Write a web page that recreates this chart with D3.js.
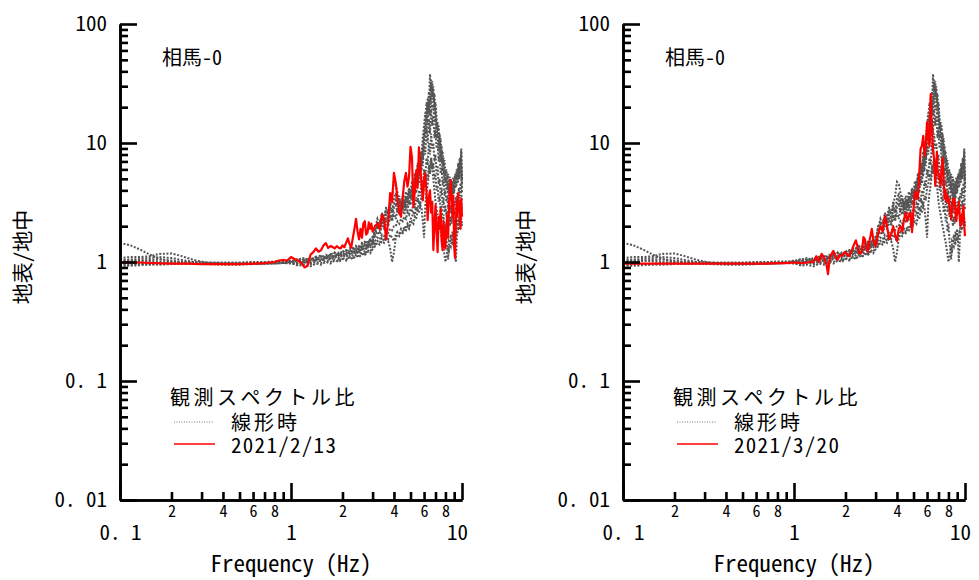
<!DOCTYPE html>
<html>
<head>
<meta charset="utf-8">
<script src="https://cdn.jsdelivr.net/npm/d3@7"></script>
<style>
body { margin: 0; background: #fff; }
text { font-family: "Noto Sans Mono CJK JP", "Noto Sans CJK JP", "DejaVu Sans Mono", monospace; fill: #000; }
</style>
</head>
<body>
<div id="chart"></div>
<script>
// frequency grid for the linear-time spectral ratios (Hz)
var linearFreq = [0.1,0.115,0.13,0.15,0.17,0.2,0.23,0.27,0.32,0.4,0.5,0.6,0.7,0.8,0.9,
    1.0,1.1,1.2,1.3,1.4,1.5,1.6,1.7,1.8,1.9,2.0,2.1,2.2,2.3,2.4,2.5,2.6,2.7,2.8,2.9,3.0,
    3.1,3.2,3.3,3.4,3.5,3.6,3.7,3.8,3.9,4.0,
    4.1,4.2,4.3,4.4,4.5,4.6,4.7,4.8,4.9,5.0,
    5.1,5.2,5.3,5.4,5.5,5.6,5.7,5.8,5.9,6.0,
    6.1,6.2,6.3,6.4,6.5,6.6,6.7,6.8,6.9,7.0,
    7.1,7.2,7.3,7.4,7.5,7.6,7.7,7.8,7.9,8.0,
    8.1,8.2,8.3,8.4,8.5,8.6,8.7,8.8,8.9,9.0,
    9.1,9.2,9.3,9.4,9.5,9.6,9.7,9.8,9.9,10.0];

// linear-time (線形時) spectral ratios, same in both panels
var linear1 = [1.45,1.38,1.28,1.15,1.06,1.0,0.98,0.97,0.97,0.97,0.96,0.97,0.97,0.98,0.98,
    0.99,0.97,1.02,0.98,1.05,1.01,1.08,1.04,1.1,1.06,1.14,1.1,1.18,1.13,1.22,1.17,1.28,1.22,1.35,1.3,1.45,
    2.0,2.1,1.9,2.3,2.2,2.5,2.4,2.8,2.6,3.0,
    3.3,2.9,3.4,3.0,3.6,3.2,3.9,3.5,4.2,3.8,
    4.8,4.2,5.6,5.0,6.8,6.0,8.5,7.5,11,14,
    18,15,24,20,38,28,33,22,26,17,
    14,11,12,9,8.5,7,7.5,5.5,6,4.8,
    5,4.2,4.6,3.8,4.2,3.5,4.0,3.4,4.4,3.8,
    4.8,4.2,5.5,4.6,6.2,5.0,7,6,8.5,4.5];
var linear2 = [1.08,1.1,1.1,1.12,1.17,1.18,1.12,1.04,0.99,0.97,0.97,0.96,0.97,0.97,0.98,
    1.0,1.03,0.98,1.06,1.02,1.1,1.05,1.13,1.08,1.17,1.12,1.2,1.15,1.26,1.2,1.32,1.25,1.4,1.33,1.5,1.42,
    1.8,2.0,2.2,2.1,2.5,2.7,2.6,3.0,3.6,4.7,
    4.5,3.8,3.0,2.6,2.8,2.5,2.9,2.7,3.2,3.0,
    3.6,3.3,4.2,3.8,5.2,4.6,6.5,5.8,8.5,10,
    14,12,20,17,28,34,25,30,20,22,
    16,13,14,10,11,8,8.5,6.5,7.2,5.5,
    6,5,5.5,4.5,5.2,4.2,4.8,4.0,5.2,4.6,
    5.5,5.0,6.0,5.4,6.8,5.8,7.5,6.2,9.0,5.0];
var linear3 = [0.93,0.93,0.94,0.95,0.96,0.97,0.97,0.97,0.98,0.98,0.97,0.97,0.98,0.98,0.99,
    0.98,0.93,0.95,0.92,0.97,0.95,1.0,0.97,1.03,1.0,1.06,1.03,1.1,1.06,1.13,1.1,1.17,1.14,1.22,1.18,1.28,
    1.35,1.45,1.4,1.5,1.45,1.6,1.5,1.3,1.0,1.2,
    1.6,1.7,1.65,1.8,1.75,1.9,1.85,2.0,1.9,2.1,
    2.2,2.1,2.4,2.3,2.7,2.6,3.0,2.8,2.2,1.6,
    3.0,3.8,4.5,5.5,6.5,7.5,6.0,5.0,4.0,3.2,
    2.8,2.5,2.2,2.0,1.8,1.6,1.5,1.3,1.15,1.0,
    1.1,1.2,1.3,1.25,1.4,1.35,1.5,1.45,1.6,1.5,
    1.6,1.7,1.8,1.75,1.9,1.85,2.0,2.1,2.2,2.0];
var linear4 = [1.04,1.05,1.06,1.08,1.1,1.08,1.04,1.0,0.98,0.97,0.96,0.96,0.97,0.98,0.98,
    1.01,1.05,1.08,1.03,1.1,1.14,1.08,1.16,1.2,1.13,1.22,1.26,1.18,1.3,1.35,1.27,1.42,1.48,1.38,1.55,1.62,
    1.6,1.8,1.7,2.0,1.9,2.2,2.0,2.4,2.2,2.6,
    2.3,2.8,2.5,3.0,2.7,3.2,2.9,3.4,3.1,3.6,
    3.4,4.2,3.8,5.0,4.4,6.0,5.2,7.5,6.4,9.5,
    8,13,10,16,12,19,14,17,11,13,
    9,10,7,8,5.5,6.2,4.4,5,3.6,4,
    3.2,3.6,2.8,3.2,2.6,3.0,2.5,2.9,2.7,3.2,
    3.0,3.5,3.2,3.8,3.4,4.2,3.6,4.6,3.8,3.2];
var linear5 = [0.97,0.97,0.96,0.96,0.95,0.96,0.96,0.97,0.96,0.95,0.95,0.96,0.97,0.97,0.98,
    0.97,0.95,0.99,0.96,1.0,0.98,1.03,1.0,1.05,1.02,1.08,1.05,1.1,1.08,1.15,1.12,1.2,1.16,1.26,1.22,1.32,
    1.5,1.6,1.55,1.7,1.65,1.8,1.75,1.9,1.85,2.0,
    2.0,2.2,2.1,2.3,2.2,2.4,2.3,2.6,2.5,2.8,
    2.7,3.1,2.9,3.5,3.2,4.0,3.6,4.8,4.2,6.0,
    5.2,7.5,6.5,10,8,12,9,10,7,8,
    5.5,6.5,4.5,5,3.6,4.2,3.0,3.5,2.6,3.0,
    2.4,2.7,2.2,2.5,2.0,2.4,2.1,2.5,2.3,2.7,
    2.5,2.9,2.6,3.1,2.8,3.3,2.9,3.5,3.2,2.8];
var linear6 = [1.0,1.01,1.02,1.04,1.05,1.03,1.0,0.98,0.97,0.97,0.98,0.99,0.99,0.99,1.0,
    1.02,1.06,1.0,1.09,1.04,1.12,1.07,1.16,1.1,1.2,1.14,1.24,1.18,1.3,1.22,1.36,1.28,1.45,1.35,1.55,1.48,
    1.9,2.3,2.0,2.6,2.2,2.9,2.4,3.2,2.6,3.4,
    3.8,3.1,3.6,2.8,3.3,2.7,3.5,3.0,3.9,3.4,
    4.4,3.8,5.2,4.5,6.4,5.4,7.8,6.6,10,12,
    16,22,18,27,21,30,24,26,18,20,
    13,15,10,12,8,9.5,6.5,7.5,5,6,
    4.4,5.2,4.0,4.8,3.6,4.4,3.8,4.6,4.2,5.0,
    4.6,5.5,5.0,6.0,5.2,6.5,5.6,7.5,6.0,4.2];
var linear7 = [0.95,0.95,0.96,0.97,0.98,0.99,1.0,1.0,0.99,0.99,0.99,1.0,1.0,1.01,1.01,
    1.0,0.98,1.04,1.0,1.07,1.03,1.1,1.06,1.13,1.09,1.17,1.12,1.22,1.16,1.28,1.2,1.35,1.26,1.42,1.34,1.52,
    1.4,1.5,1.45,1.6,1.5,1.65,1.55,1.7,1.6,1.5,
    1.7,1.8,1.75,1.9,1.8,2.0,1.9,2.1,2.0,2.3,
    2.4,2.6,2.5,2.9,2.7,3.2,3.0,3.6,3.3,4.2,
    4.5,5.5,5.0,6.5,5.5,7.5,6,6.8,5,5.5,
    4.0,4.4,3.2,3.6,2.6,3.0,2.2,2.5,1.8,2.1,
    1.6,1.3,1.05,1.5,1.45,1.7,1.5,1.8,1.6,1.9,
    1.5,1.0,1.4,2.3,2.0,2.4,2.1,2.6,2.3,2.1];
var linear8 = [1.02,1.03,1.03,1.02,1.0,0.99,0.98,0.98,0.97,0.97,0.97,0.98,0.98,0.99,0.99,
    1.03,0.99,1.07,1.02,1.11,1.05,1.15,1.08,1.2,1.12,1.25,1.17,1.3,1.22,1.36,1.27,1.44,1.33,1.52,1.4,1.62,
    1.7,2.0,1.85,2.2,2.0,2.4,2.15,2.6,2.3,2.9,
    3.0,2.6,3.2,2.8,3.3,2.9,3.6,3.2,4.0,3.5,
    4.0,4.8,4.4,5.6,5.0,6.8,6.0,8.5,7.2,11,
    12,17,14,22,17,25,19,21,15,16,
    11,12,8.5,10,7,7.8,5.8,6.5,4.6,5.2,
    4.0,4.6,3.6,4.2,3.3,3.9,3.4,4.0,3.7,4.4,
    4.2,4.8,4.4,5.2,4.7,5.8,5.0,6.5,5.4,3.8];
var linearCurves = [linear1, linear2, linear3, linear4, linear5, linear6, linear7, linear8];

// observed ratio, 2021/2/13  [freq, ratio]
var ratioFeb = [[0.1,0.99],[0.13,0.99],[0.16,0.98],[0.2,0.97],[0.25,0.97],[0.3,0.96],[0.35,0.96],
    [0.4,0.96],[0.5,0.96],[0.6,0.97],[0.7,0.98],[0.8,1.0],[0.85,1.03],[0.9,1.04],[0.95,1.03],
    [1.0,1.1],[1.05,1.06],[1.1,1.03],[1.15,0.98],[1.2,0.9],[1.25,0.93],[1.3,1.15],[1.35,1.21],
    [1.4,1.3],[1.45,1.22],[1.5,1.26],[1.55,1.38],[1.6,1.44],[1.65,1.31],[1.7,1.36],[1.75,1.34],
    [1.8,1.3],[1.85,1.36],[1.9,1.32],[1.95,1.3],[2.0,1.38],[2.05,1.33],[2.1,1.45],[2.15,1.58],
    [2.2,1.42],[2.25,1.32],[2.3,1.6],[2.35,1.9],[2.4,2.3],[2.45,1.8],[2.5,1.55],[2.55,1.9],
    [2.6,1.6],[2.65,2.1],[2.7,2.2],[2.75,1.7],[2.8,1.75],[2.85,2.15],[2.9,1.9],[2.95,2.1],
    [3.0,1.8],[3.1,2.0],[3.2,2.1],[3.3,1.9],[3.4,2.5],[3.5,2.3],[3.6,1.55],[3.7,2.2],[3.8,3.8],
    [3.9,3.2],[4.0,5.6],[4.1,4.6],[4.2,3.3],[4.3,2.6],[4.4,2.4],[4.5,3.5],[4.6,4.8],[4.7,5.6],
    [4.8,4.3],[4.9,5.2],[5.0,9.3],[5.1,7.5],[5.2,2.9],[5.3,4.0],[5.4,5.9],[5.5,4.2],[5.6,9.2],
    [5.7,6.3],[5.8,4.5],[5.9,3.3],[6.0,5.0],[6.1,5.6],[6.2,3.8],[6.3,2.25],[6.4,3.5],[6.5,4.0],
    [6.6,2.6],[6.7,3.2],[6.8,1.26],[6.9,2.0],[7.0,3.0],[7.1,1.8],[7.2,1.21],[7.3,2.4],[7.4,1.9],
    [7.5,2.8],[7.6,1.5],[7.7,1.26],[7.8,2.2],[7.9,1.34],[8.0,1.3],[8.1,1.97],[8.2,2.5],[8.3,1.6],
    [8.4,3.2],[8.5,4.0],[8.6,4.9],[8.7,3.0],[8.8,2.4],[8.9,3.6],[9.0,1.34],[9.1,1.08],[9.2,2.0],
    [9.3,3.2],[9.4,2.4],[9.5,3.8],[9.6,2.9],[9.7,2.7],[9.8,1.9],[9.9,3.4],[10.0,2.4]];

// observed ratio, 2021/3/20  [freq, ratio]
var ratioMar = [[0.1,0.97],[0.15,0.97],[0.2,0.97],[0.3,0.97],[0.4,0.97],[0.5,0.97],[0.6,0.97],
    [0.7,0.97],[0.8,0.98],[0.9,0.98],[1.0,0.99],[1.1,0.98],[1.2,0.99],[1.3,1.0],[1.35,1.12],
    [1.4,1.0],[1.45,1.17],[1.5,1.08],[1.55,0.95],[1.58,0.79],[1.62,1.1],[1.66,1.17],[1.7,1.24],
    [1.75,1.1],[1.8,1.04],[1.85,1.15],[1.9,1.12],[1.95,1.18],[2.0,1.21],[2.05,1.15],[2.1,1.12],
    [2.15,1.2],[2.2,1.3],[2.25,1.42],[2.3,1.52],[2.35,1.35],[2.4,1.2],[2.45,1.17],[2.5,1.25],
    [2.55,1.62],[2.6,1.55],[2.65,1.3],[2.7,1.22],[2.75,1.45],[2.8,1.65],[2.85,1.9],[2.9,1.6],
    [2.95,1.42],[3.0,1.36],[3.1,1.7],[3.2,2.0],[3.3,1.8],[3.4,2.43],[3.5,2.0],[3.6,1.56],
    [3.7,1.7],[3.8,2.0],[3.9,1.7],[4.0,1.5],[4.1,1.9],[4.2,2.0],[4.3,1.8],[4.4,2.3],[4.5,2.6],
    [4.6,2.2],[4.7,2.5],[4.8,2.6],[4.9,1.78],[5.0,2.8],[5.1,3.9],[5.2,3.6],[5.3,3.4],[5.4,5.5],
    [5.5,8.9],[5.6,9.5],[5.7,11.5],[5.8,7.8],[5.9,9.5],[6.0,15],[6.1,11],[6.2,9.4],[6.3,25.8],
    [6.35,18],[6.4,13.8],[6.5,9],[6.6,7.3],[6.7,4.35],[6.8,6.5],[6.85,8.4],[6.9,6],[7.0,5.5],
    [7.1,5.0],[7.2,4.4],[7.3,6.2],[7.4,7.5],[7.5,5],[7.6,3.4],[7.7,4.0],[7.8,3.2],[7.9,3.6],
    [8.0,3.4],[8.1,3.0],[8.2,2.6],[8.3,2.3],[8.4,2.8],[8.5,3.4],[8.6,3.0],[8.7,3.4],[8.8,2.6],
    [8.9,2.2],[9.0,2.8],[9.1,2.6],[9.2,3.2],[9.3,2.4],[9.4,2.0],[9.5,2.5],[9.6,2.2],[9.7,2.7],
    [9.8,2.95],[9.9,2.0],[10.0,1.65]];

// tick values and labels
var yMajor = [0.01, 0.1, 1, 10, 100];
var yMajorLabels = ["0. 01", "0. 1", "1", "10", "100"];
var xMajor = [0.1, 1, 10];
var xMajorLabels = ["0. 1", "1", "10"];
var minorSteps = [2, 3, 4, 5, 6, 7, 8, 9];
var minorLabelled = [2, 4, 6, 8];

var stationName = "相馬-0";
var legendTitle = "観測スペクトル比";
var linearLabel = "線形時";

var svg = d3.select("#chart").append("svg")
    .attr("width", 979)
    .attr("height", 580);

var y = d3.scaleLog().domain([0.01, 100]).range([500, 24]);

function minorTicks(decades) {
    var out = [];
    decades.forEach(function(d){
        minorSteps.forEach(function(s){ out.push(d * s); });
    });
    return out;
}

function styleAxis(g) {
    g.select(".domain").style("stroke", "#000").style("stroke-width", "2.6px");
    g.selectAll(".tick line").style("stroke", "#000").style("stroke-width", "2.6px");
}

function drawPanel(x0, ratio, dateLabel) {
    var x = d3.scaleLog().domain([0.1, 10]).range([x0, x0 + 342]);
    var panel = svg.append("g");

    var line = d3.line()
        .x(function(d){ return x(d[0]); })
        .y(function(d){ return y(d[1]); });

    // linear-time curves (grey dotted)
    panel.selectAll(".linear")
        .data(linearCurves).enter()
        .append("path")
        .attr("class", "linear")
        .attr("d", function(c){ return line(linearFreq.map(function(f, i){ return [f, c[i]]; })); })
        .attr("fill", "none")
        .attr("stroke", "#555")
        .attr("stroke-width", 2)
        .attr("stroke-dasharray", "2,1.6");

    // observed curve (red)
    panel.append("path")
        .datum(ratio)
        .attr("d", line)
        .attr("fill", "none")
        .attr("stroke", "#ff0000")
        .attr("stroke-width", 2.2)
        .attr("stroke-linejoin", "round");

    // y axis, minor ticks
    panel.append("g")
        .attr("transform", "translate(" + x0 + ",0)")
        .call(d3.axisLeft(y).tickValues(minorTicks([0.01, 0.1, 1, 10])).tickSizeInner(-8).tickSizeOuter(0).tickFormat(""))
        .call(styleAxis);
    // y axis, major ticks
    panel.append("g")
        .attr("transform", "translate(" + x0 + ",0)")
        .call(d3.axisLeft(y).tickValues(yMajor).tickSizeInner(-17).tickSizeOuter(0).tickPadding(13)
            .tickFormat(function(d, i){ return yMajorLabels[i]; }))
        .call(styleAxis)
        .call(function(g){ g.selectAll("text").style("font-size", "21px"); });

    // x axis, minor ticks
    panel.append("g")
        .attr("transform", "translate(0,500)")
        .call(d3.axisBottom(x).tickValues(minorTicks([0.1, 1])).tickSizeInner(-8).tickSizeOuter(0).tickPadding(6)
            .tickFormat(function(d){
                var s = Math.round(d < 1 ? d * 10 : d);
                return minorLabelled.indexOf(s) >= 0 ? s : "";
            }))
        .call(styleAxis)
        .call(function(g){ g.selectAll("text").style("font-size", "16px"); });
    // x axis, major ticks
    panel.append("g")
        .attr("transform", "translate(0,500)")
        .call(d3.axisBottom(x).tickValues(xMajor).tickSizeInner(-17).tickSizeOuter(0).tickPadding(25)
            .tickFormat(function(d, i){ return xMajorLabels[i]; }))
        .call(styleAxis)
        .call(function(g){
            g.selectAll("text").style("font-size", "21px")
                .attr("dx", function(d){ return d === 10 ? -5 : 0; });
        });

    // axis titles
    panel.append("text")
        .attr("x", x0 + 171)
        .attr("y", 572)
        .attr("text-anchor", "middle")
        .style("font-size", "23px")
        .text("Frequency (Hz)");
    panel.append("text")
        .attr("transform", "translate(" + (x0 - 90) + ",257) rotate(-90)")
        .attr("text-anchor", "middle")
        .style("font-size", "21px")
        .text("地表/地中");

    // station name
    panel.append("text")
        .attr("x", x0 + 42)
        .attr("y", 65)
        .style("font-size", "20px")
        .text(stationName);

    // legend
    panel.append("text")
        .attr("x", x0 + 50)
        .attr("y", 405)
        .style("font-size", "20px")
        .style("letter-spacing", "3.5px")
        .text(legendTitle);
    panel.append("line")
        .attr("x1", x0 + 54).attr("x2", x0 + 93)
        .attr("y1", 422).attr("y2", 422)
        .attr("stroke", "#777")
        .attr("stroke-width", 1)
        .attr("stroke-dasharray", "1,1.5");
    panel.append("text")
        .attr("x", x0 + 111)
        .attr("y", 430)
        .style("font-size", "20px")
        .style("letter-spacing", "3px")
        .text(linearLabel);
    panel.append("line")
        .attr("x1", x0 + 54).attr("x2", x0 + 95)
        .attr("y1", 444).attr("y2", 444)
        .attr("stroke", "#ff0000")
        .attr("stroke-width", 1.5);
    panel.append("text")
        .attr("x", x0 + 111)
        .attr("y", 453)
        .style("font-size", "21px")
        .style("letter-spacing", "1.3px")
        .text(dateLabel);
}

drawPanel(120, ratioFeb, "2021/2/13");
drawPanel(623, ratioMar, "2021/3/20");
</script>
</body>
</html>
